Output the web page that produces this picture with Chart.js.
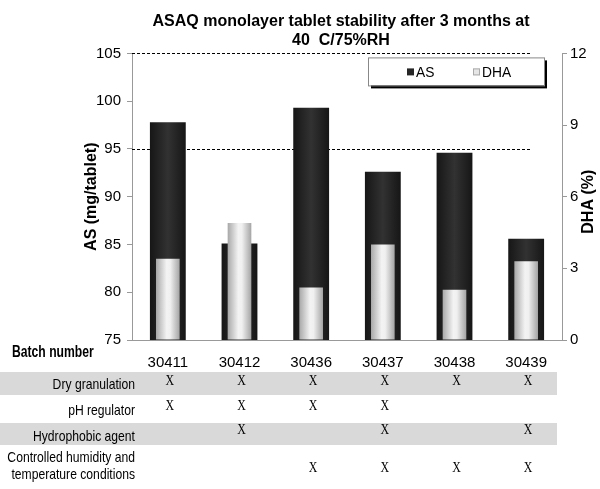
<!DOCTYPE html>
<html>
<head>
<meta charset="utf-8">
<script src="https://cdn.jsdelivr.net/npm/chart.js@4.4.1/dist/chart.umd.min.js"></script>
<style>
  html, body { margin: 0; padding: 0; background: #fff; }
  #wrap { width: 600px; height: 489px; }
</style>
</head>
<body>
<div id="wrap"><canvas id="stabilityChart"></canvas></div>
<script>
// batches and measured values after 3 months at 40 C/75%RH
const batches = ['30411', '30412', '30436', '30437', '30438', '30439'];
const asValues = [97.8, 85.1, 99.3, 92.6, 94.6, 85.6];
const dhaValues = [3.4, 4.9, 2.2, 4.0, 2.1, 3.3];
const refLines = [95, 105];

// process table under the chart (1 = applied)
const factorLabels = ['Dry granulation', 'pH regulator', 'Hydrophobic agent', ['Controlled humidity and', 'temperature conditions']];
const dryGranulation = [1, 1, 1, 1, 1, 1];
const phRegulator = [1, 1, 1, 1, 0, 0];
const hydrophobicAgent = [0, 1, 0, 1, 0, 1];
const controlledConditions = [0, 0, 1, 1, 1, 1];
const factorRows = [dryGranulation, phRegulator, hydrophobicAgent, controlledConditions];

const FONT = '"Liberation Sans", Arial, sans-serif';

function barGradient(ctx, frac, stops, fallback) {
    const chart = ctx.chart;
    const sc = chart.scales && chart.scales.x;
    if (!sc || !chart.chartArea || ctx.dataIndex === undefined) return fallback;
    const cx = sc.getPixelForValue(ctx.dataIndex);
    const w = sc.width / batches.length * frac;
    const g = chart.ctx.createLinearGradient(cx - w / 2, 0, cx + w / 2, 0);
    stops.forEach(s => g.addColorStop(s[0], s[1]));
    return g;
}

// text squeezed horizontally, like the narrow font of the original
function narrowText(c, text, x, y, sx) {
    c.save();
    c.translate(x, y);
    c.scale(sx, 1);
    c.fillText(text, 0, 0);
    c.restore();
}

const refLinePlugin = {
    id: 'refLines',
    beforeDatasetsDraw(chart) {
        const c = chart.ctx, y = chart.scales.y, a = chart.chartArea;
        c.save();
        c.strokeStyle = '#000';
        c.lineWidth = 1;
        c.setLineDash([3, 2]);
        refLines.forEach(v => {
            const py = Math.round(y.getPixelForValue(v)) + 0.5;
            c.beginPath();
            c.moveTo(a.left, py);
            c.lineTo(a.left + 400, py);
            c.stroke();
        });
        c.restore();
    }
};

const legendBoxPlugin = {
    id: 'legendBox',
    afterDatasetsDraw(chart) {
        const c = chart.ctx, a = chart.chartArea;
        const x = a.left + 236, y = a.top + 4, w = 176, h = 28;
        c.save();
        c.fillStyle = '#000';
        c.fillRect(x + 3, y + 3, w, h);
        c.fillStyle = '#fff';
        c.fillRect(x, y, w, h);
        c.strokeStyle = '#888';
        c.lineWidth = 1;
        c.strokeRect(x + 0.5, y + 0.5, w, h);
        c.font = '15px ' + FONT;
        c.textBaseline = 'middle';
        c.fillStyle = '#262626';
        c.fillRect(x + 39, y + 11, 7, 7);
        c.fillStyle = '#000';
        narrowText(c, 'AS', x + 48, y + 15, 0.92);
        c.fillStyle = '#e6e6e6';
        c.fillRect(x + 105, y + 11, 7, 7);
        c.strokeStyle = '#aaa';
        c.strokeRect(x + 105.5, y + 11.5, 6, 6);
        c.fillStyle = '#000';
        narrowText(c, 'DHA', x + 114, y + 15, 0.92);
        c.restore();
    }
};

const sideTitlePlugin = {
    id: 'sideTitle',
    afterDraw(chart) {
        const c = chart.ctx, a = chart.chartArea;
        c.save();
        c.translate(589, (a.top + a.bottom) / 2 + 5);
        c.rotate(-Math.PI / 2);
        c.font = 'bold 16px ' + FONT;
        c.fillStyle = '#000';
        c.textAlign = 'center';
        c.textBaseline = 'middle';
        c.fillText('DHA (%)', 0, 0);
        c.restore();
    }
};

const tablePlugin = {
    id: 'processTable',
    afterDraw(chart) {
        const c = chart.ctx, sc = chart.scales.x;
        c.save();
        c.fillStyle = '#000';
        c.font = 'bold 16px ' + FONT;
        c.textBaseline = 'middle';
        narrowText(c, 'Batch number', 12, 353, 0.76);

        // shaded bands
        c.fillStyle = '#d9d9d9';
        c.fillRect(0, 372, 557, 23);
        c.fillRect(0, 423, 557, 22);

        const labelY = [385, 411, 437, [458, 475]];
        const markY = [381, 406, 430, 468];
        c.fillStyle = '#000';
        c.font = '15px ' + FONT;
        c.textAlign = 'right';
        factorLabels.forEach((lab, r) => {
            if (Array.isArray(lab)) {
                lab.forEach((l, k) => narrowText(c, l, 135, labelY[r][k], 0.81));
            } else {
                narrowText(c, lab, 135, labelY[r], 0.81);
            }
        });
        c.textAlign = 'center';
        c.font = '14px "Liberation Serif", "Times New Roman", serif';
        factorRows.forEach((row, r) => {
            row.forEach((v, i) => {
                if (v) narrowText(c, 'X', sc.getPixelForValue(i) + 2, markY[r], 0.85);
            });
        });
        c.restore();
    }
};

const ctx = document.getElementById('stabilityChart');

new Chart(ctx, {
    type: 'bar',
    data: {
        labels: batches,
        datasets: [
            {
                label: 'AS',
                data: asValues,
                yAxisID: 'y',
                order: 2,
                grouped: false,
                barPercentage: 0.5,
                categoryPercentage: 1,
                backgroundColor: (c) => barGradient(c, 0.5,
                    [[0, '#161616'], [0.5, '#323232'], [1, '#161616']], '#262626'),
                borderWidth: 0
            },
            {
                label: 'DHA',
                data: dhaValues,
                yAxisID: 'y1',
                order: 1,
                grouped: false,
                barPercentage: 0.33,
                categoryPercentage: 1,
                backgroundColor: (c) => barGradient(c, 0.33,
                    [[0, '#a8a8a8'], [0.45, '#f3f3f3'], [0.6, '#f0f0f0'], [1, '#a4a4a4']], '#e0e0e0'),
                borderWidth: 0
            }
        ]
    },
    options: {
        responsive: true,
        maintainAspectRatio: false,
        animation: false,
        layout: { padding: { left: 82, right: 0, top: 0, bottom: 0 } },
        plugins: {
            legend: { display: false },
            tooltip: { enabled: false },
            title: {
                display: true,
                text: ['ASAQ monolayer tablet stability after 3 months at', '40  C/75%RH'],
                color: '#000',
                font: { family: FONT, size: 16, weight: 'bold', lineHeight: 1.2 },
                padding: { top: 12, bottom: 3 }
            }
        },
        scales: {
            x: {
                grid: { display: false, drawTicks: false },
                border: { color: '#999' },
                ticks: { color: '#000', font: { family: FONT, size: 15 }, padding: 14 },
                afterFit: (s) => { s.height = 149; }
            },
            y: {
                position: 'left',
                min: 75,
                max: 105,
                ticks: { stepSize: 5, color: '#000', font: { family: FONT, size: 15 }, padding: 6 },
                grid: { drawOnChartArea: false, drawTicks: true, tickLength: 5, color: '#999' },
                border: { color: '#999' },
                title: {
                    display: true,
                    text: 'AS (mg/tablet)',
                    color: '#000',
                    font: { family: FONT, size: 16, weight: 'bold' },
                    padding: 0
                },
                afterFit: (s) => { s.width = 50; }
            },
            y1: {
                position: 'right',
                min: 0,
                max: 12,
                ticks: { stepSize: 3, color: '#000', font: { family: FONT, size: 15 }, padding: 3 },
                grid: { drawOnChartArea: false, drawTicks: true, tickLength: 5, color: '#999' },
                border: { color: '#999' },
                afterFit: (s) => { s.width = 38; }
            }
        }
    },
    plugins: [refLinePlugin, legendBoxPlugin, sideTitlePlugin, tablePlugin]
});
</script>
</body>
</html>
